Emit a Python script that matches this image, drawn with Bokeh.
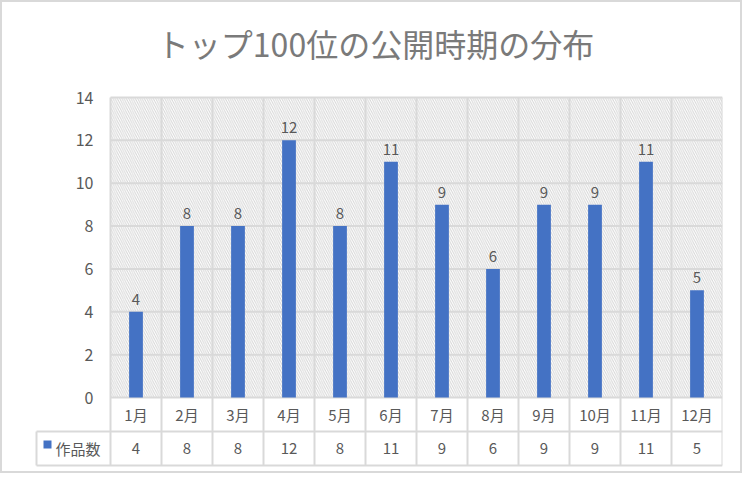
from bokeh.plotting import figure
from bokeh.models import Range1d
from bokeh.core.properties import value
from bokeh.embed import file_html
from bokeh.resources import INLINE

# ---- data ----
months = ["1月", "2月", "3月", "4月", "5月", "6月", "7月", "8月", "9月", "10月", "11月", "12月"]
counts = [4, 8, 8, 12, 8, 11, 9, 6, 9, 9, 11, 5]
yticks = [0, 2, 4, 6, 8, 10, 12, 14]
series_name = "作品数"
title_text = "トップ100位の公開時期の分布"

# ---- layout constants ----
PX_X = 51.0          # pixels per category
PX_Y = 300.0 / 14    # pixels per unit
ROW1 = -34 / PX_Y
ROW2 = -68 / PX_Y
XMIN = -80 / PX_X
LEG_L = -74 / PX_X
YTOP = 395 / PX_Y
TITLE_X = 265 / PX_X
TITLE_Y = 355 / PX_Y
FONT = value("Noto Sans CJK JP")
TXT = "#595959"
GRID = "#d9d9d9"

n = len(months)
xs = [i + 0.5 for i in range(n)]

p = figure(width=742, height=473, output_backend="svg", toolbar_location=None,
           title_location=None,
           x_range=Range1d(XMIN, n), y_range=Range1d(ROW2 - 2 / PX_Y, YTOP),
           x_axis_type=None, y_axis_type=None,
           min_border_left=28, min_border_right=22, min_border_top=0, min_border_bottom=8)
p.grid.visible = False
p.outline_line_color = None
p.background_fill_color = "white"
p.border_fill_color = "white"
p.styles = {"border": "2px solid #d9d9d9"}

# title
p.text(x=[TITLE_X], y=[TITLE_Y], text=[title_text], text_align="center",
       text_baseline="middle", text_font=FONT, text_font_size="32px",
       text_color="#7a7a7a")

# hatched plot area
p.quad(left=0, right=n, bottom=0, top=max(yticks), fill_color="white",
       hatch_pattern="\\", hatch_color="#d6d6d6", hatch_scale=4.5, hatch_weight=1,
       line_color=None)

# horizontal grid
p.segment(x0=[0] * len(yticks), x1=[n] * len(yticks), y0=yticks, y1=yticks,
          line_color=GRID, line_width=2)
# vertical lines (grid + table)
p.segment(x0=list(range(n + 1)), x1=list(range(n + 1)), y0=[ROW2] * (n + 1),
          y1=[max(yticks)] * (n + 1), line_color=GRID, line_width=2)
# table horizontals
p.segment(x0=[LEG_L, LEG_L], x1=[n, n], y0=[ROW1, ROW2], y1=[ROW1, ROW2],
          line_color=GRID, line_width=2)
p.segment(x0=[LEG_L], x1=[LEG_L], y0=[ROW1], y1=[ROW2], line_color=GRID, line_width=2)

# bars
p.vbar(x=xs, top=counts, width=0.27, fill_color="#4472C4", line_color=None)

# data labels
p.text(x=xs, y=counts, text=[str(c) for c in counts], text_align="center",
       text_baseline="bottom", y_offset=-7, text_font=FONT, text_font_size="15px",
       text_color=TXT)

# y tick labels
p.text(x=[0] * len(yticks), y=yticks, text=[str(t) for t in yticks], x_offset=-17,
       text_align="right", text_baseline="middle", text_font=FONT,
       text_font_size="16px", text_color=TXT)

# table rows
p.text(x=xs, y=[ROW1 / 2] * n, text=months, text_align="center", text_baseline="middle",
       text_font=FONT, text_font_size="15px", text_color=TXT)
p.text(x=xs, y=[(ROW1 + ROW2) / 2] * n, text=[str(c) for c in counts],
       text_align="center", text_baseline="middle", text_font=FONT,
       text_font_size="15px", text_color=TXT)

# legend key in table
p.rect(x=[LEG_L + 11 / PX_X], y=[(ROW1 + ROW2) / 2 + 4 / PX_Y], width=8, height=8,
       width_units="screen", height_units="screen", fill_color="#4472C4", line_color=None)
p.text(x=[LEG_L + 19 / PX_X], y=[(ROW1 + ROW2) / 2], text=[series_name],
       text_align="left", text_baseline="middle", text_font=FONT,
       text_font_size="15px", text_color=TXT)

open("out.html", "w").write(file_html(p, INLINE))
